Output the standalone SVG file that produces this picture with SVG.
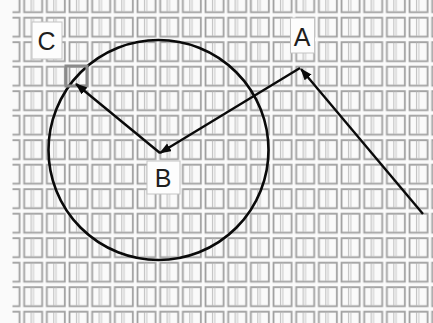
<svg xmlns="http://www.w3.org/2000/svg" width="433" height="323" viewBox="0 0 433 323">
<style>
.box{fill:#fdfdfd;stroke:#c4c4c4;stroke-width:1}
.lbl{font-family:"Liberation Sans",Arial,sans-serif;font-size:25px;fill:#1e1e1e;text-anchor:middle}
.ln{stroke:#0a0a0a;stroke-width:2.4;fill:none}
</style>
<defs>
<pattern id="grid" patternUnits="userSpaceOnUse" x="0" y="16.7" width="22.67" height="24.5">
<rect x="1.5" y="1" width="18" height="19" fill="none" stroke="#a0a0a0" stroke-width="1.8"/>
<line x1="8.5" y1="1.5" x2="8.5" y2="19.5" stroke="#bababa" stroke-width="1"/>
<line x1="10.8" y1="1.5" x2="10.8" y2="19.5" stroke="#c6c6c6" stroke-width="1"/>
</pattern>
<marker id="ah" markerUnits="userSpaceOnUse" markerWidth="12" markerHeight="10" refX="11" refY="4.5" orient="auto">
<path d="M0,0 L12,4.5 L0,9 z" fill="#0a0a0a"/>
</marker>
</defs>
<rect width="433" height="323" fill="#fafafa"/>
<rect width="433" height="323" fill="url(#grid)"/>
<rect x="0" y="0" width="12.5" height="323" fill="#fafafa"/>
<g id="circle">
<circle cx="158.5" cy="150" r="110" fill="none" stroke="#0a0a0a" stroke-width="2.6"/>
</g>
<g id="highlight">
<rect x="66" y="66" width="21" height="20" fill="none" stroke="#8a8a8a" stroke-width="3"/>
</g>
<g id="connectors">
<line class="ln" x1="300" y1="68" x2="160" y2="153" marker-end="url(#ah)"/>
<line class="ln" x1="160" y1="153" x2="76" y2="84" marker-end="url(#ah)"/>
<line class="ln" x1="423" y1="214" x2="301" y2="69" marker-end="url(#ah)"/>
</g>
<g id="nodeC">
<rect class="box" x="32" y="22" width="30" height="37"/>
<text class="lbl" x="46.5" y="50">C</text>
</g>
<g id="nodeA">
<rect class="box" x="290.5" y="18" width="24" height="35"/>
<text class="lbl" x="302" y="46">A</text>
</g>
<g id="nodeB">
<rect class="box" x="147" y="161" width="33" height="33"/>
<text class="lbl" x="163" y="187">B</text>
</g>
</svg>
